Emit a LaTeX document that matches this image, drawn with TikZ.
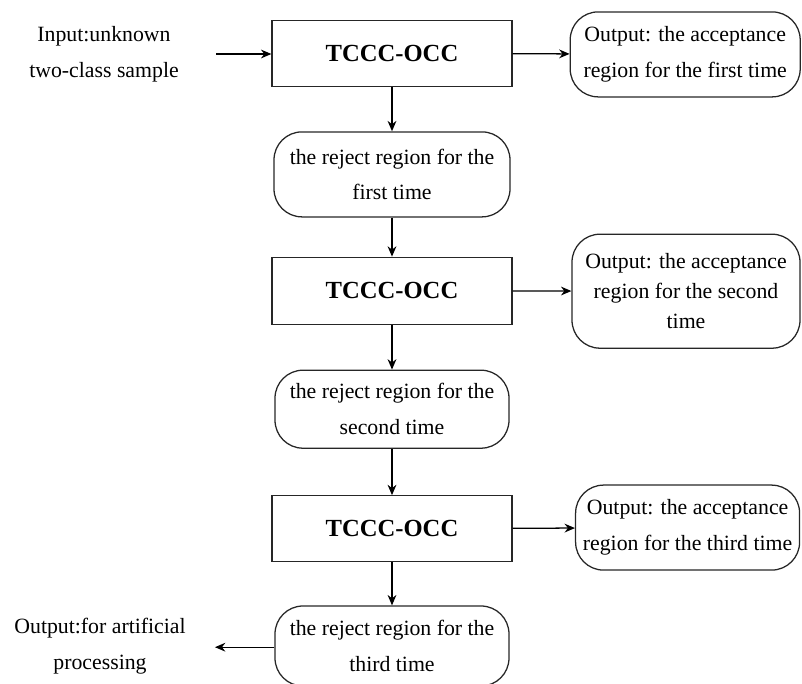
\documentclass[tikz,border=0pt]{standalone}
\usepackage{fontspec}
\setmainfont{Liberation Serif}
\usetikzlibrary{arrows.meta}

\begin{document}
\begin{tikzpicture}[
  >={Stealth[length=2.6mm,width=2.2mm]},
  line width=0.9pt,
  proc/.style={draw=black!85,minimum width=6cm,minimum height=1.65cm,
    font=\fontsize{17.5}{20}\selectfont\bfseries},
  region/.style={draw=black!85,rounded corners=0.7cm,align=center,inner sep=0pt,
    font=\fontsize{15.5}{25.5}\selectfont},
  plain/.style={align=center,font=\fontsize{15.5}{25.5}\selectfont}]
\clip (0,0) rectangle (20.05,-17.1);

\node [plain] (input) at (2.6,-1.35) {Input:unknown\\two-class sample};
\node [proc] (tccc1) at (9.8,-1.33) {TCCC-OCC};
\node [region,minimum width=5.75cm,minimum height=2.125cm] (accept1) at (17.13,-1.36)
  {Output: the acceptance\\region for the first time};
\node [region,minimum width=5.9cm,minimum height=2.125cm] (reject1) at (9.8,-4.36)
  {the reject region for the\\first time};

\node [proc,minimum height=1.675cm] (tccc2) at (9.8,-7.27) {TCCC-OCC};
\node [region,minimum width=5.7cm,minimum height=2.85cm,
  font=\fontsize{15.5}{21.5}\selectfont] (accept2) at (17.15,-7.28)
  {Output: the acceptance\\region for the second\\time};
\node [region,minimum width=5.85cm,minimum height=1.95cm] (reject2) at (9.8,-10.23)
  {the reject region for the\\second time};

\node [proc] (tccc3) at (9.8,-13.22) {TCCC-OCC};
\node [region,minimum width=5.6cm,minimum height=2.125cm] (accept3) at (17.19,-13.19)
  {Output: the acceptance\\region for the third time};
\node [region,minimum width=5.85cm,minimum height=2cm] (reject3) at (9.8,-16.15)
  {the reject region for the\\third time};

\node [plain] (manual) at (2.5,-16.15) {Output:for artificial\\processing};

\draw [->] (input.east) ++(0.8,0) -- (input.east -| tccc1.west);
\draw [->] (tccc1) -- (accept1);
\draw [->] (tccc1) -- (reject1);
\draw [->] (reject1) -- (tccc2);
\draw [->] (tccc2) -- (accept2);
\draw [->] (tccc2) -- (reject2);
\draw [->] (reject2) -- (tccc3);
\draw [->] (tccc3) -- (accept3);
\draw [->] (tccc3) -- (reject3);
\draw [->, shorten >=0.6cm] (reject3.west |- 0,-16.18) -- (manual.east |- 0,-16.18);
\end{tikzpicture}
\end{document}
